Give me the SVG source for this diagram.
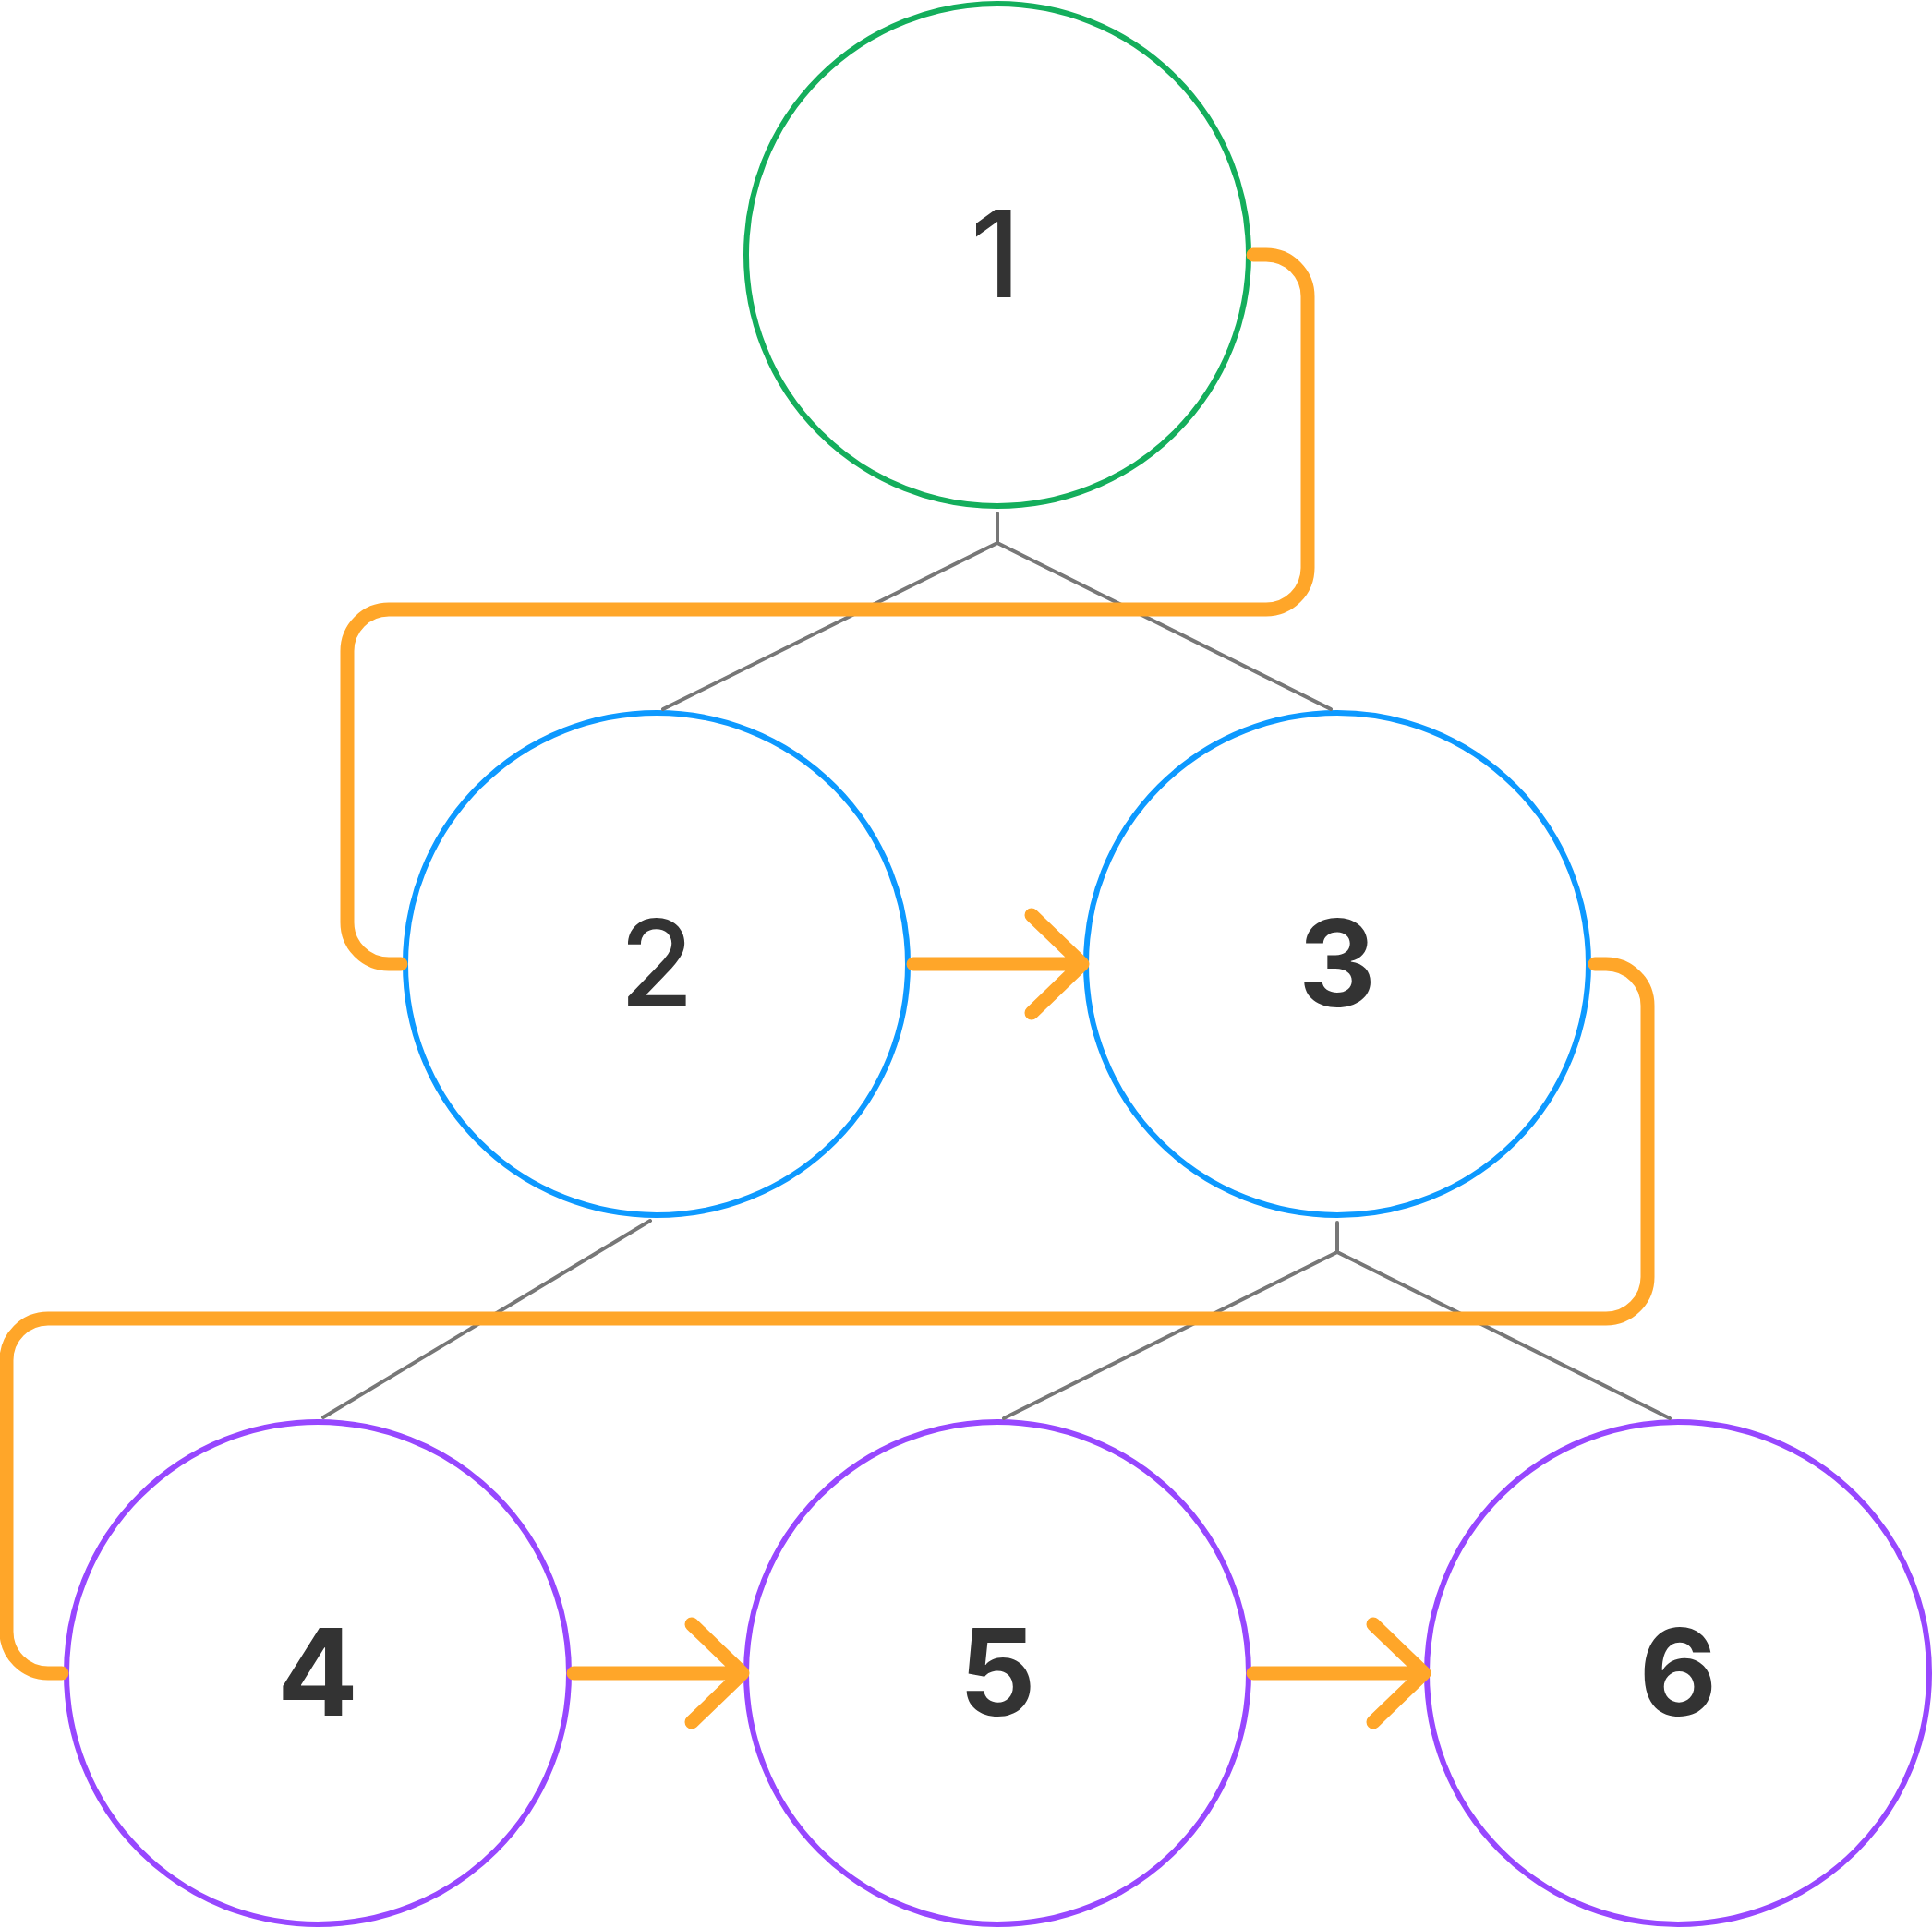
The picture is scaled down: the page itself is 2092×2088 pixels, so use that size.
<svg xmlns="http://www.w3.org/2000/svg" width="2092" height="2088" viewBox="0 0 2092 2088">
<style>
.node{fill:#ffffff;stroke-width:6}
.green{stroke:#14ae5c}
.blue{stroke:#0d99ff}
.purple{stroke:#9747ff}
.label{font-family:Inter,"Noto Sans","Liberation Sans",sans-serif;font-size:130px;fill:#333333;text-anchor:middle}
.m{font-weight:500}
.b{font-weight:700}
.tree{fill:none;stroke:#777777;stroke-width:4;stroke-linecap:round;stroke-linejoin:round}
.flow{fill:none;stroke:#ffa629;stroke-width:15;stroke-linecap:round;stroke-linejoin:round}
</style>
<rect width="2092" height="2088" fill="#ffffff"/>
<g id="node1"><circle class="node green" cx="1080" cy="276" r="272"/><text class="label m" x="1078" y="322">1</text></g>
<g id="node2"><circle class="node blue" cx="711" cy="1044" r="272"/><text class="label m" x="711" y="1090">2</text></g>
<g id="node3"><circle class="node blue" cx="1448" cy="1044" r="272"/><text class="label b" x="1448" y="1090">3</text></g>
<g id="node4"><circle class="node purple" cx="344" cy="1812" r="272"/><text class="label b" x="344" y="1858">4</text></g>
<g id="node5"><circle class="node purple" cx="1080" cy="1812" r="272"/><text class="label b" x="1080" y="1858">5</text></g>
<g id="node6"><circle class="node purple" cx="1817" cy="1812" r="272"/><text class="label b" x="1817" y="1858">6</text></g>
<g id="connectors">
<path class="tree" d="M1080,556 V588 L718,768 M1080,588 L1441,768"/>
<path class="tree" d="M1448,1324 V1356 L1087,1536 M1448,1356 L1808,1536"/>
<path class="tree" d="M704,1322 L350,1535"/>
<path class="flow" d="M1357,276 H1371 A45,45 0 0 1 1416,321 V615 A45,45 0 0 1 1371,660 H421 A45,45 0 0 0 376,705 V999 A45,45 0 0 0 421,1044 H434"/>
<path class="flow" d="M1727,1044 H1739 A45,45 0 0 1 1784,1089 V1383 A45,45 0 0 1 1739,1428 H52 A45,45 0 0 0 7,1473 V1767 A45,45 0 0 0 52,1812 H67"/>
<path class="flow" d="M989,1044 H1172 M1117,991 L1172,1044 L1117,1097"/>
<path class="flow" d="M621,1812 H804 M749,1759 L804,1812 L749,1865"/>
<path class="flow" d="M1357,1812 H1542 M1487,1759 L1542,1812 L1487,1865"/>
</g>
</svg>
